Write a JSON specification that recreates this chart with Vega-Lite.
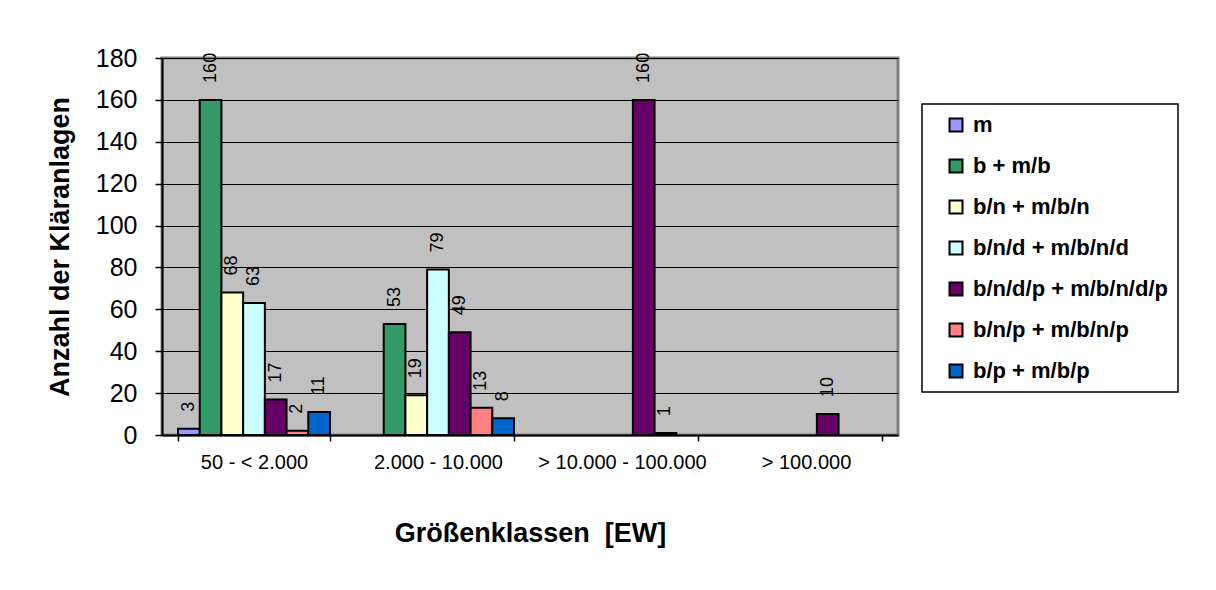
{
  "$schema": "https://vega.github.io/schema/vega-lite/v6.json",
  "width": 736,
  "height": 377,
  "autosize": {"type": "none"},
  "padding": {"left": 162, "top": 58, "right": 318, "bottom": 155},
  "background": "white",
  "config": {
    "font": "Liberation Sans",
    "view": {"fill": "#C0C0C0", "stroke": "#808080", "strokeWidth": 3},
    "axis": {"labelColor": "black", "titleColor": "black", "tickColor": "black", "domainColor": "black", "labelFont": "Liberation Sans", "titleFont": "Liberation Sans"},
    "legend": {"strokeColor": "black", "strokeWidth": 1.5, "fillColor": "white"}
  },
  "data": {
    "values": [
      {"klasse": "50 - < 2.000", "verfahren": "m", "anzahl": 3},
      {"klasse": "50 - < 2.000", "verfahren": "b + m/b", "anzahl": 160},
      {"klasse": "50 - < 2.000", "verfahren": "b/n + m/b/n", "anzahl": 68},
      {"klasse": "50 - < 2.000", "verfahren": "b/n/d + m/b/n/d", "anzahl": 63},
      {"klasse": "50 - < 2.000", "verfahren": "b/n/d/p + m/b/n/d/p", "anzahl": 17},
      {"klasse": "50 - < 2.000", "verfahren": "b/n/p + m/b/n/p", "anzahl": 2},
      {"klasse": "50 - < 2.000", "verfahren": "b/p + m/b/p", "anzahl": 11},
      {"klasse": "2.000 - 10.000", "verfahren": "b + m/b", "anzahl": 53},
      {"klasse": "2.000 - 10.000", "verfahren": "b/n + m/b/n", "anzahl": 19},
      {"klasse": "2.000 - 10.000", "verfahren": "b/n/d + m/b/n/d", "anzahl": 79},
      {"klasse": "2.000 - 10.000", "verfahren": "b/n/d/p + m/b/n/d/p", "anzahl": 49},
      {"klasse": "2.000 - 10.000", "verfahren": "b/n/p + m/b/n/p", "anzahl": 13},
      {"klasse": "2.000 - 10.000", "verfahren": "b/p + m/b/p", "anzahl": 8},
      {"klasse": "> 10.000 - 100.000", "verfahren": "b/n/d/p + m/b/n/d/p", "anzahl": 160},
      {"klasse": "> 10.000 - 100.000", "verfahren": "b/n/p + m/b/n/p", "anzahl": 1},
      {"klasse": "> 100.000", "verfahren": "b/n/d/p + m/b/n/d/p", "anzahl": 10}
    ]
  },
  "encoding": {
    "x": {
      "field": "klasse",
      "type": "nominal",
      "sort": ["50 - < 2.000", "2.000 - 10.000", "> 10.000 - 100.000", "> 100.000"],
      "scale": {"paddingInner": 0.174, "paddingOuter": 0.087},
      "axis": {
        "title": "Größenklassen\u00a0 [EW]",
        "titleFontSize": 27,
        "titleFontWeight": "bold",
        "titlePadding": 48,
        "labelFontSize": 20,
        "labelFontWeight": "normal",
        "labelAngle": 0,
        "labelPadding": 11,
        "tickSize": 6,
        "tickBand": "extent",
        "domainWidth": 2,
        "tickWidth": 1.5
      }
    },
    "xOffset": {
      "field": "verfahren",
      "type": "nominal",
      "scale": {
        "domain": ["m", "b + m/b", "b/n + m/b/n", "b/n/d + m/b/n/d", "b/n/d/p + m/b/n/d/p", "b/n/p + m/b/n/p", "b/p + m/b/p"],
        "paddingInner": 0,
        "paddingOuter": 0
      }
    },
    "y": {
      "field": "anzahl",
      "type": "quantitative",
      "scale": {"domain": [0, 180], "nice": false},
      "axis": {
        "title": "Anzahl der Kläranlagen",
        "titleFontSize": 27,
        "titleFontWeight": "bold",
        "titlePadding": 21,
        "values": [0, 20, 40, 60, 80, 100, 120, 140, 160, 180],
        "labelFontSize": 25,
        "labelPadding": 18,
        "tickSize": 7,
        "tickWidth": 1.5,
        "domainWidth": 2,
        "grid": true,
        "gridColor": "black",
        "gridWidth": 1,
        "gridOpacity": 1
      }
    }
  },
  "layer": [
    {
      "mark": {"type": "bar", "stroke": "black", "strokeWidth": 2},
      "encoding": {
        "color": {
          "field": "verfahren",
          "type": "nominal",
          "scale": {
            "domain": ["m", "b + m/b", "b/n + m/b/n", "b/n/d + m/b/n/d", "b/n/d/p + m/b/n/d/p", "b/n/p + m/b/n/p", "b/p + m/b/p"],
            "range": ["#9999FF", "#339966", "#FFFFCC", "#CCFFFF", "#660066", "#FF8080", "#0066CC"]
          },
          "legend": {
            "title": null,
            "orient": "none",
            "legendX": 760,
            "legendY": 46,
            "symbolType": "square",
            "symbolSize": 169,
            "symbolStrokeColor": "black",
            "symbolStrokeWidth": 2,
            "symbolOpacity": 1,
            "symbolOffset": 13,
            "labelFontSize": 22,
            "labelFontWeight": "bold",
            "labelColor": "black",
            "labelFont": "Liberation Sans",
            "labelOffset": 6,
            "labelLimit": 400,
            "rowPadding": 19,
            "padding": 10
          }
        }
      }
    },
    {
      "mark": {"type": "text", "angle": 270, "align": "left", "baseline": "middle", "dx": 17, "fontSize": 18, "color": "black", "font": "Liberation Sans"},
      "encoding": {"text": {"field": "anzahl", "type": "quantitative"}}
    }
  ]
}
